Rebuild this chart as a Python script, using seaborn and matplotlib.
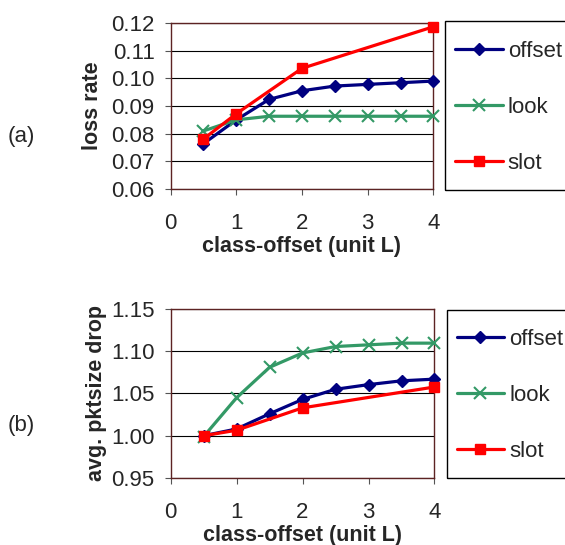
import pandas as pd
import seaborn as sns
import matplotlib.pyplot as plt
from matplotlib.patches import Rectangle
from matplotlib.ticker import FormatStrFormatter

# values
x_full = [0.5, 1, 1.5, 2, 2.5, 3, 3.5, 4]
x_slot = [0.5, 1, 2, 4]

loss_offset = [0.0764, 0.0850, 0.0924, 0.0955, 0.0972, 0.0978, 0.0984, 0.0990]
loss_look = [0.0810, 0.0850, 0.0863, 0.0863, 0.0863, 0.0863, 0.0863, 0.0863]
loss_slot = [0.0781, 0.0872, 0.1036, 0.1186]

drop_offset = [1.000, 1.008, 1.026, 1.043, 1.055, 1.0605, 1.065, 1.067]
drop_look = [0.999, 1.045, 1.081, 1.098, 1.1056, 1.1076, 1.1096, 1.1096]
drop_slot = [1.000, 1.0065, 1.033, 1.0577]

x_ticks = [0, 1, 2, 3, 4]
loss_ticks = [0.06, 0.07, 0.08, 0.09, 0.10, 0.11, 0.12]
drop_ticks = [0.95, 1.00, 1.05, 1.10, 1.15]

series_names = ["offset", "look", "slot"]
colors = {"offset": "#000080", "look": "#339966", "slot": "#FF0000"}
markers = {"offset": "D", "look": "x", "slot": "s"}
msizes = {"offset": 6.5, "look": 8, "slot": 6.5}

sns.set_style("white")
plt.rcParams["font.family"] = ["Liberation Sans", "DejaVu Sans"]

W, H = 565, 545
fig = plt.figure(figsize=(W / 100, H / 100), dpi=100)
ax1 = fig.add_axes([0.302, 0.653, 0.465, 0.305])
ax2 = fig.add_axes([0.302, 0.123, 0.467, 0.310])

spine_color = "#5c2323"
fs = 16
label_fs = 15.5


def draw_panel(ax, xs, ys, ylim, yticks, ylabel, ylabel_x, xlabel_y,
               frame_px, leg_anchor):
    for name, x, y in zip(series_names, xs, ys):
        df = pd.DataFrame({"x": x, "y": y})
        sns.lineplot(data=df, x="x", y="y", ax=ax, color=colors[name],
                     marker=markers[name], markersize=msizes[name],
                     mec=colors[name], mfc=colors[name],
                     mew=1.5 if name == "look" else 1.0,
                     lw=2.3, label=name, clip_on=False, zorder=3)
    ax.set_xlim(0, 4)
    ax.set_ylim(*ylim)
    ax.set_xticks(x_ticks)
    ax.set_yticks(yticks)
    ax.yaxis.set_major_formatter(FormatStrFormatter("%.2f"))
    ax.yaxis.grid(True, color="black", lw=0.8)
    ax.xaxis.grid(False)
    for sp in ax.spines.values():
        sp.set_color(spine_color)
        sp.set_linewidth(1.0)
    ax.tick_params(axis="both", which="major", length=4.5, width=0.8,
                   color="#555555", labelsize=fs, direction="out",
                   left=True, bottom=True)
    ax.tick_params(axis="x", pad=12.5)
    ax.tick_params(axis="y", pad=7)
    ax.set_xlabel("class-offset (unit L)", fontsize=label_fs, fontweight="bold")
    ax.set_ylabel(ylabel, fontsize=label_fs, fontweight="bold")
    ax.xaxis.set_label_coords(0.5, xlabel_y)
    ax.xaxis.label.set_va("baseline")
    ax.yaxis.set_label_coords(ylabel_x, 0.5)
    ax.yaxis.label.set_va("center")

    # legend frame drawn separately, legend itself frameless
    x0, y0, x1, y1 = frame_px
    fig.patches.append(Rectangle((x0 / W, 1 - y1 / H), (x1 - x0) / W,
                                 (y1 - y0) / H, transform=fig.transFigure,
                                 fill=False, edgecolor="black", lw=1.0))
    ax.legend(loc="upper left", bbox_to_anchor=leg_anchor,
              bbox_transform=fig.transFigure, borderaxespad=0, borderpad=0,
              fontsize=fs, frameon=False, handlelength=2.15,
              handletextpad=0.22, labelspacing=1.58)


draw_panel(ax1, [x_full, x_full, x_slot], [loss_offset, loss_look, loss_slot],
           (0.06, 0.12), loss_ticks, "loss rate", -0.296, -0.38,
           (445, 21, 570, 190), (455 / W, 1 - 41 / H))
draw_panel(ax2, [x_full, x_full, x_slot], [drop_offset, drop_look, drop_slot],
           (0.95, 1.15), drop_ticks, "avg. pktsize drop", -0.28, -0.373,
           (446.5, 310, 570, 478), (456.5 / W, 1 - 329 / H))

fig.text(0.014, 0.749, "(a)", fontsize=fs, va="center", ha="left")
fig.text(0.014, 0.220, "(b)", fontsize=fs, va="center", ha="left")

fig.savefig("out.png", dpi=100)
